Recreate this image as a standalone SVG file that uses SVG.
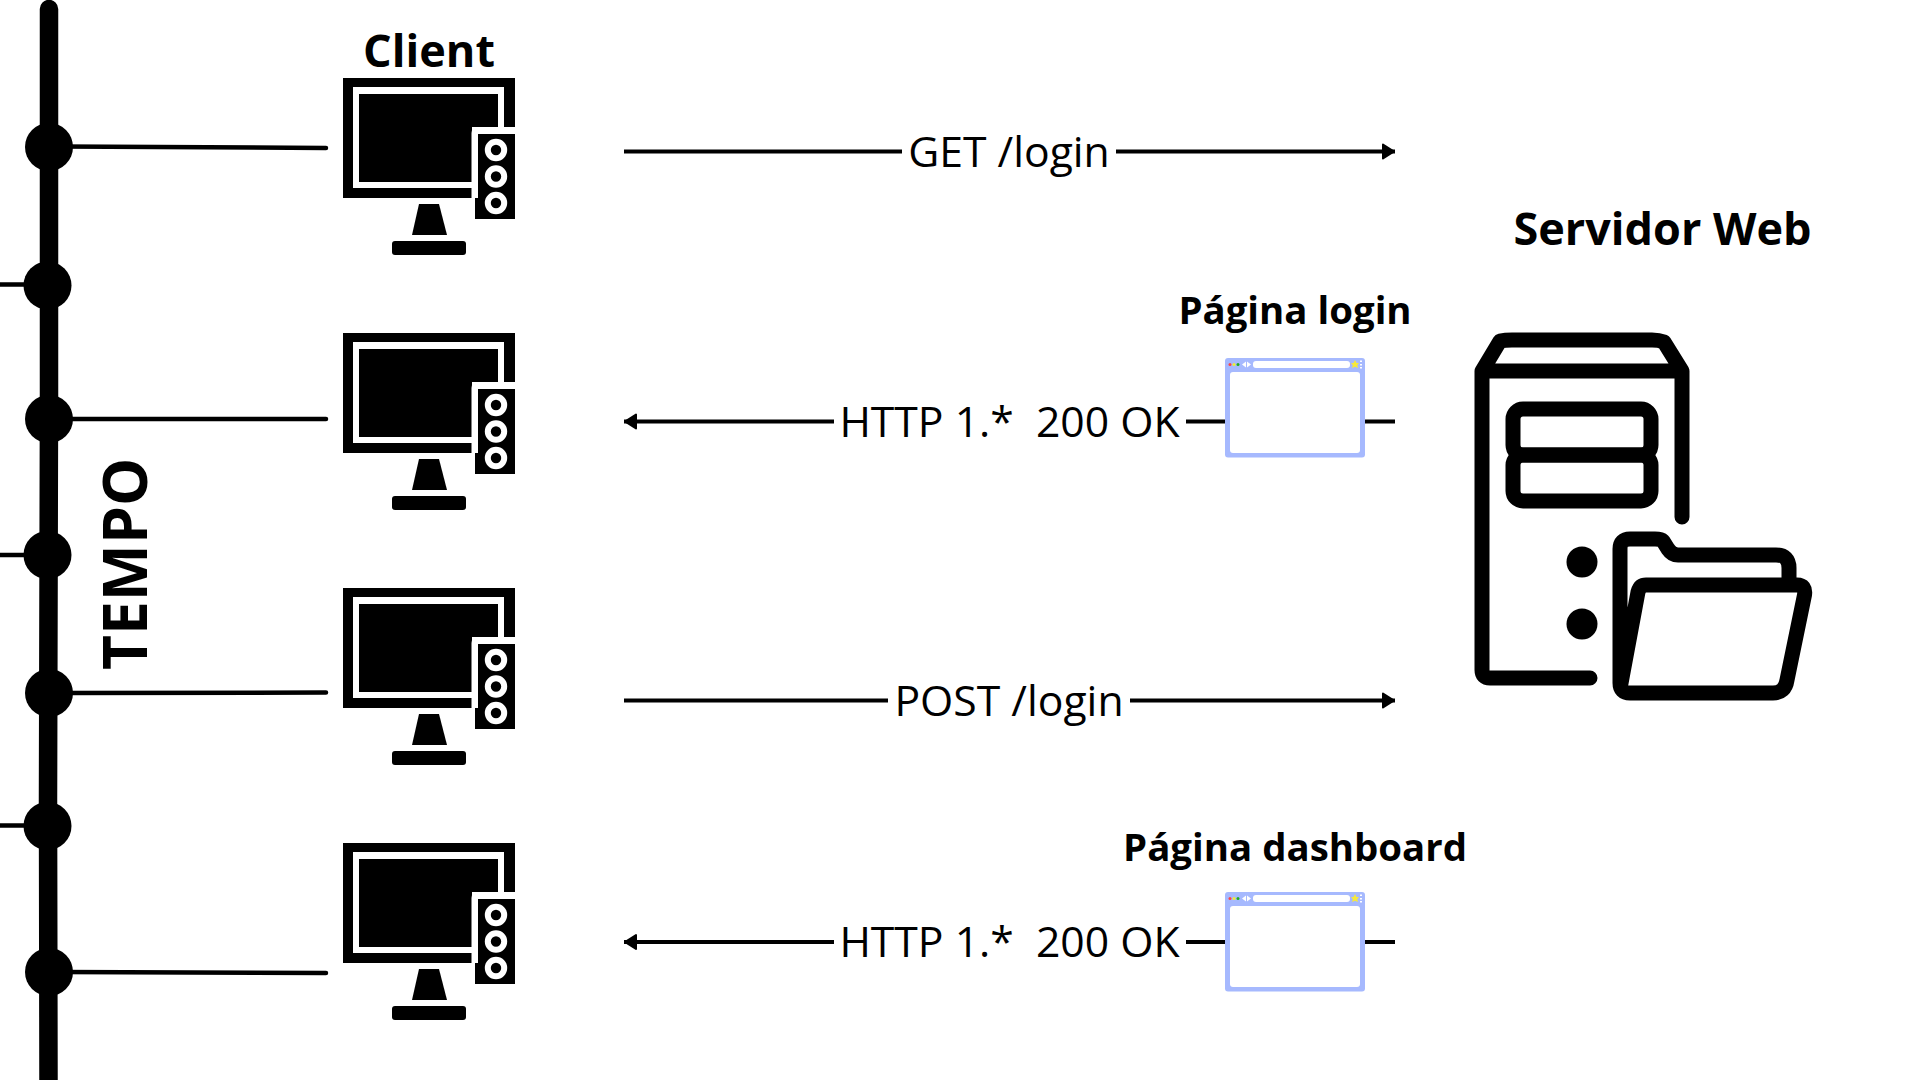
<svg xmlns="http://www.w3.org/2000/svg" width="1920" height="1080" viewBox="0 0 1920 1080">
<style>
text{font-family:"Open Sans","Noto Sans",sans-serif;fill:#000;white-space:pre}
.t{font-size:42.700px;text-anchor:middle}
.b{font-weight:700;text-anchor:middle}
.l{fill:none;stroke:#000;stroke-width:4px}
.s{fill:none;stroke:#000;stroke-width:15px;stroke-linecap:round;stroke-linejoin:round}
</style>
<defs>
<marker id="ah" markerUnits="userSpaceOnUse" markerWidth="16" markerHeight="18" refX="14" refY="9" orient="auto-start-reverse"><path d="M2 2L13 9L2 16Z" fill="#000" stroke="#000" stroke-width="2" stroke-linejoin="round"/></marker>
<g id="pc">
<path d="M343 78H515V127H478Q472 127 472 133V198H343Z" fill="#000"/>
<rect x="356" y="90.500" width="145" height="94.500" rx="1.500" fill="#000" stroke="#fff" stroke-width="6"/>
<path d="M475 130H515V219H475Z" fill="#000"/>
<path d="M471.500 133Q471.500 127 478 127H515V134H478V198H471.500Z" fill="#fff"/>
<path d="M504 127V87H353V188H472V182H359V94H498V127Z" fill="#fff"/>
<rect x="472" y="127" width="43" height="7" fill="#fff"/>
<g fill="none" stroke="#fff" stroke-width="6"><circle cx="496" cy="150" r="8.200"/><circle cx="496" cy="176.500" r="8.200"/><circle cx="496" cy="203" r="8.200"/></g>
<path d="M419 204H439L447 235H412Z" fill="#000"/>
<rect x="392" y="241" width="74" height="14" rx="3" fill="#000"/>
</g>
<g id="br">
<rect x="1225" y="358" width="140" height="99.500" rx="3" fill="#a6b9fe"/>
<rect x="1230" y="372" width="130" height="81" rx="3" fill="#fff"/>
<rect x="1253" y="361" width="97" height="7" rx="3" fill="#fff"/>
<circle cx="1230" cy="364.500" r="1.500" fill="#f44"/><circle cx="1234" cy="364.500" r="1.500" fill="#ee3"/><circle cx="1238" cy="364.500" r="1.500" fill="#2a2"/>
<path d="M1246 361.500V367.500L1242 364.500ZM1247 361.500V367.500L1251 364.500Z" fill="#fff"/>
<path d="M1355 360L1356.500 363H1359L1357.200 365.200L1358 368L1355 366.700L1352 368L1352.800 365.200L1351 363H1353.500Z" fill="#f7e93a"/>
<path d="M1361 360.500v1.500M1361 364v1.500M1361 367v1.500" stroke="#fff" stroke-width="2" fill="none"/>
</g>
</defs>
<rect width="1920" height="1080" fill="#fff"/>
<g id="connectors">
<path d="M49 9V400L48 800L48.500 1080" fill="none" stroke="#000" stroke-width="18.500" stroke-linecap="round"/>
<g fill="none" stroke="#000" stroke-width="4.500" stroke-linecap="round">
<path d="M60 146.500L326 148"/><path d="M60 419H326"/><path d="M60 693L326 692.500"/><path d="M60 972L326 973"/>
<path d="M-5 284.500H35"/><path d="M-5 555H35"/><path d="M-5 825.500H35"/>
</g>
<path class="l" d="M624 151.500H902"/><path class="l" d="M1116 151.500H1395" marker-end="url(#ah)"/>
<path class="l" d="M834 421.500H624" marker-end="url(#ah)"/><path class="l" d="M1186 421.500H1225M1365 421.500H1395"/>
<path class="l" d="M624 700.500H888"/><path class="l" d="M1130 700.500H1395" marker-end="url(#ah)"/>
<path class="l" d="M834 942H624" marker-end="url(#ah)"/><path class="l" d="M1186 942H1225M1365 942H1395"/>
</g>
<g id="timeline" fill="#000">
<circle cx="49" cy="147" r="24"/><circle cx="47.500" cy="285.500" r="24"/><circle cx="49" cy="419" r="24"/><circle cx="47.500" cy="555" r="24"/><circle cx="49" cy="693" r="24"/><circle cx="47.500" cy="826" r="24"/><circle cx="49" cy="972" r="24"/>
</g>
<text id="tempo" class="b" transform="translate(147 564) rotate(-90)" font-size="60.500">TEMPO</text>
<g id="client-1"><use href="#pc"/><text class="b" x="429" y="67" font-size="45">Client</text></g>
<g id="client-2"><use href="#pc" y="255"/></g>
<g id="client-3"><use href="#pc" y="510"/></g>
<g id="client-4"><use href="#pc" y="765"/></g>
<g id="server">
<text class="b" x="1662.500" y="245" font-size="45">Servidor Web</text>
<path class="s" d="M1590 678H1490Q1482 678 1482 670V371L1500 341Q1505 340 1512 340H1652Q1659 340 1664 342L1682 371V517M1482 371H1682"/>
<rect class="s" x="1513" y="409" width="138" height="46" rx="10"/>
<rect class="s" x="1513" y="455" width="138" height="46" rx="10"/>
<circle cx="1582" cy="562" r="15.500"/><circle cx="1582" cy="624" r="15.500"/>
<path class="s" d="M1789 583V568Q1789 555 1776 555H1678Q1672 555 1668 549L1663 541Q1661 539 1655 539H1630Q1620 539 1620 549V683Q1620 693 1630 693H1773Q1785 693 1787 680L1804.500 595Q1806 585 1797 585H1646Q1640 585 1638 592L1620.500 686"/>
<path d="M1620 610L1628 610L1620 690Z" fill="#000"/>
</g>
<g id="msg-get"><text class="t" x="1009" y="167">GET /login</text></g>
<g id="msg-http-1"><text class="t" x="1009.500" y="437">HTTP 1.*  200 OK</text></g>
<g id="msg-post"><text class="t" x="1009" y="716">POST /login</text></g>
<g id="msg-http-2"><text class="t" x="1009.500" y="957">HTTP 1.*  200 OK</text></g>
<g id="page-login"><text class="b" x="1295" y="324" font-size="38.400">Página login</text><use href="#br"/></g>
<g id="page-dashboard"><text class="b" x="1295" y="861" font-size="38.400">Página dashboard</text><use href="#br" y="534"/></g>
</svg>
